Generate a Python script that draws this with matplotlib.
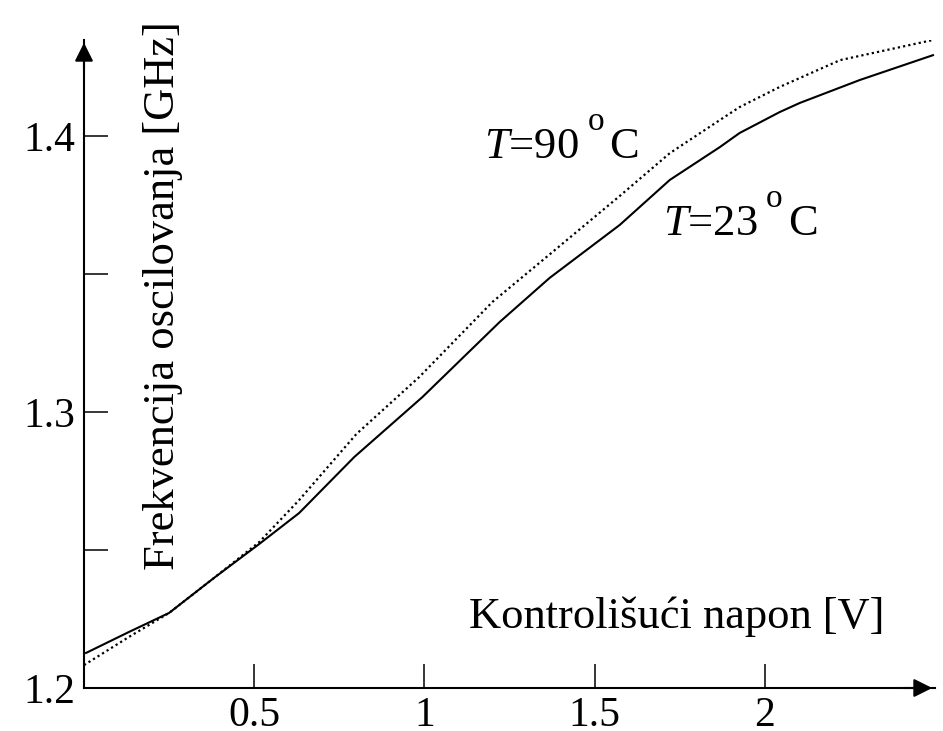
import matplotlib
matplotlib.use("Agg")
import matplotlib.pyplot as plt

plt.rcParams["font.family"] = "Liberation Serif"
plt.rcParams["mathtext.fontset"] = "custom"
plt.rcParams["mathtext.rm"] = "Liberation Serif"
plt.rcParams["mathtext.it"] = "Liberation Serif:italic"

fontsize = 32
tfontsize = 30

# T = 23 C (solid)
v23 = [0.006, 0.132, 0.250, 0.382, 0.515, 0.632, 0.794, 0.994, 1.221,
       1.368, 1.574, 1.721, 1.868, 1.926, 2.044, 2.103, 2.279, 2.494]
f23 = [1.2127, 1.2203, 1.2272, 1.2399, 1.2522, 1.2634, 1.2837, 1.3054,
       1.3326, 1.3486, 1.3678, 1.3841, 1.3960, 1.4011, 1.4087, 1.4120,
       1.4203, 1.4293]

# T = 90 C (dotted)
v90 = [0.0, 0.132, 0.250, 0.382, 0.515, 0.632, 0.800, 0.985, 1.200,
       1.359, 1.574, 1.721, 1.868, 1.926, 2.044, 2.221, 2.494]
f90 = [1.2083, 1.2185, 1.2272, 1.2399, 1.2529, 1.2681, 1.2920, 1.3127,
       1.3399, 1.3562, 1.3783, 1.3938, 1.4058, 1.4105, 1.4178, 1.4275,
       1.4348]

xticks = [0.5, 1, 1.5, 2]
xticklabels = ["0.5", "1", "1.5", "2"]
yticks = [1.2, 1.25, 1.3, 1.35, 1.4]
yticklabels = ["1.2", "", "1.3", "", "1.4"]

# curve labels: (x, baseline y, number)
labels = [(1.176, 1.392, "90"), (1.70, 1.3641, "23")]

fig = plt.figure(figsize=(9.43, 7.31), dpi=100)
ax = fig.add_axes([84 / 943, 43 / 731, (935 - 84) / 943, (688 - 40) / 731])

ax.plot(v23, f23, color="k", linewidth=1.5)
ax.plot(v90, f90, color="k", linewidth=1.6, linestyle=(0, (1, 1.4)))

ax.set_xlim(0, 2.5)
ax.set_ylim(1.2, 1.4348)

for s in ["top", "right"]:
    ax.spines[s].set_visible(False)
for s in ["left", "bottom"]:
    ax.spines[s].set_linewidth(1.5)

ax.set_xticks(xticks)
ax.set_xticklabels(xticklabels)
ax.set_yticks(yticks)
ax.set_yticklabels(yticklabels)
ax.tick_params(direction="in", length=17, width=1.1, labelsize=tfontsize, pad=6)

# arrow heads on the axes
arrow = dict(arrowstyle="-|>", color="k", lw=1.5, mutation_scale=28)
ax.annotate("", xy=(1, 0), xytext=(0.96, 0), xycoords="axes fraction",
            arrowprops=arrow, annotation_clip=False)
ax.annotate("", xy=(0, 1), xytext=(0, 0.95), xycoords="axes fraction",
            arrowprops=arrow, annotation_clip=False)

ax.text(0.093, 0.606, "Frekvencija oscilovanja [GHz]", transform=ax.transAxes,
        rotation=90, ha="center", va="center", fontsize=fontsize)
ax.text(0.697, 0.11, "Kontrolišući napon [V]", transform=ax.transAxes,
        ha="center", va="center", fontsize=fontsize)

for x, y, num in labels:
    t1 = ax.text(x, y, r"$T$=" + num, fontsize=fontsize,
                 ha="left", va="baseline")
    t2 = ax.annotate("o", xy=(1, y), xycoords=(t1, "data"),
                     xytext=(6, 20), textcoords="offset points",
                     fontsize=24, ha="left", va="baseline")
    ax.annotate("C", xy=(1, y), xycoords=(t2, "data"),
                xytext=(4, 0), textcoords="offset points",
                fontsize=fontsize, ha="left", va="baseline")

plt.savefig("out.png", dpi=100)
